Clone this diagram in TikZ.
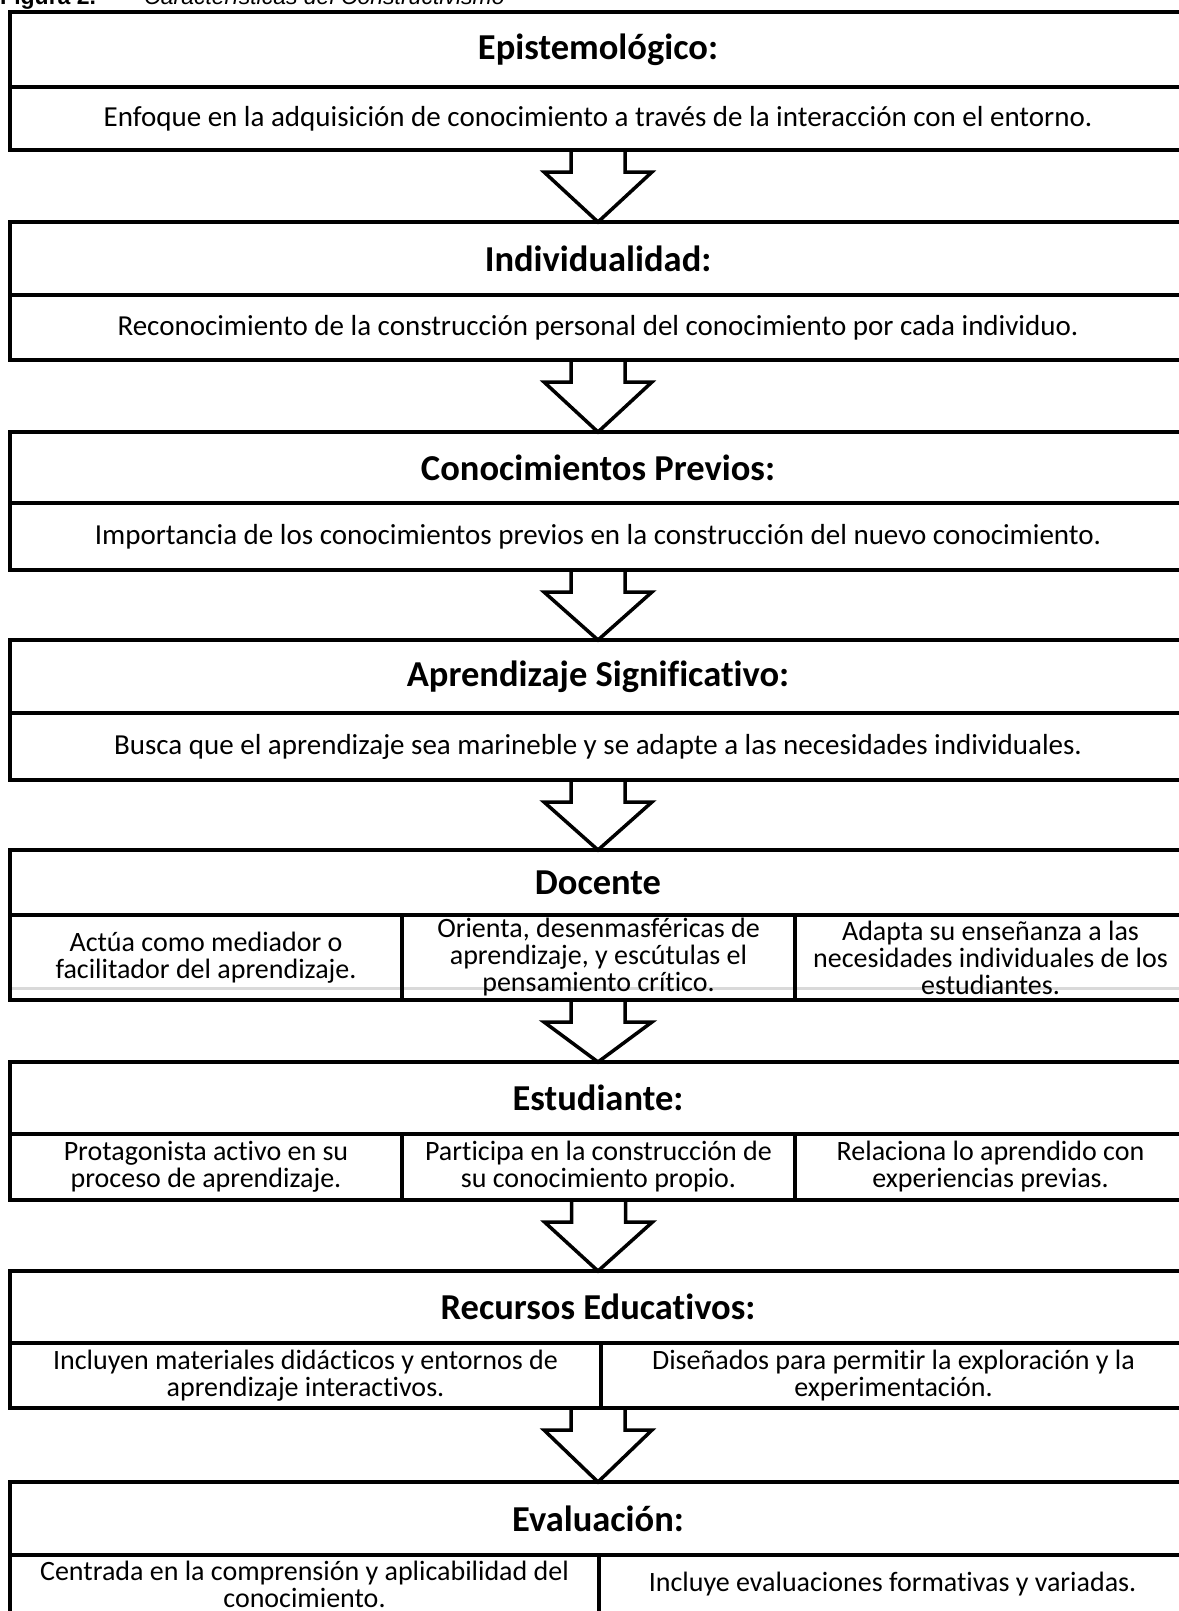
\documentclass[tikz,border=0pt]{standalone}
\usepackage{fontspec}
\setmainfont{Carlito}[Ligatures=NoCommon]
\newfontfamily\capfont{Liberation Sans}
\usetikzlibrary{calc}
\newcommand\flowarrow[2]{%
  \draw[arrowline] ($(#1)+(-27,0)$) -- ++(0,22) -- ++(-27,0) -- (#2) -- ($(#1)+(54,22)$) -- ++(-27,0) -- ++(0,-22);}
\begin{document}
\begin{tikzpicture}[x=1pt,y=-1pt,
  frame/.style={draw=black, line width=4pt, inner sep=0pt, outer sep=0pt, anchor=north west},
  hdr/.style={frame, minimum width=1176, font=\fontsize{36.5}{40}\selectfont\bfseries},
  cell/.style={frame, line width=3.5pt, font=\fontsize{28}{27}\selectfont, align=center},
  wide/.style={cell, minimum width=1176, font=\fontsize{29}{30}\selectfont},
  arrowline/.style={draw=black, line width=3.5pt, line join=miter},
  capt/.style={anchor=base west, inner sep=0pt}]
\useasboundingbox (0,0) rectangle (1178,1611);

% caption (mostly cut off at the top)
\node[capt, font=\capfont\fontsize{23}{23}\selectfont\bfseries] (capA) at (0,5) {Figura 2.};
\node[capt, font=\capfont\fontsize{23}{23}\selectfont\itshape] (capB) at (144,5) {Características del Constructivismo};

% light grey rule
\draw[black!15, line width=3pt] (10,988) -- (1186,988);

% 1
\node[hdr, minimum height=75] (h1) at (10,12) {Epistemológico:};
\node[wide, minimum height=63] (c1) at (h1.south west) {Enfoque en la adquisición de conocimiento a través de la interacción con el entorno.};
% 2
\node[hdr, minimum height=73] (h2) at (10,222) {Individualidad:};
\node[wide, minimum height=65] (c2) at (h2.south west) {Reconocimiento de la construcción personal del conocimiento por cada individuo.};
% 3
\node[hdr, minimum height=71] (h3) at (10,432) {Conocimientos Previos:};
\node[wide, minimum height=67] (c3) at (h3.south west) {Importancia de los conocimientos previos en la construcción del nuevo conocimiento.};
% 4
\node[hdr, minimum height=73] (h4) at (10,640) {Aprendizaje Significativo:};
\node[wide, minimum height=67] (c4) at (h4.south west) {Busca que el aprendizaje sea marineble y se adapte a las necesidades individuales.};
% 5
\node[hdr, minimum height=65] (h5) at (10,850) {Docente};
\node[cell, minimum width=392, minimum height=85] (d1) at (10,915) {Actúa como mediador o\\facilitador del aprendizaje.};
\node[cell, minimum width=393, minimum height=85] (d2) at (d1.north east) {Orienta, desenmasféricas de\\aprendizaje, y escútulas el\\pensamiento crítico.};
\node[cell, minimum width=391, minimum height=85] (d3) at (d2.north east) {Adapta su enseñanza a las\\necesidades individuales de los\\estudiantes.};
\draw[line width=4pt] (d1.north west) -- (d3.north east);
\draw[line width=4pt] (d1.south west) -- (d3.south east);
% 6
\node[hdr, minimum height=72] (h6) at (10,1062) {Estudiante:};
\node[cell, minimum width=392, minimum height=66] (e1) at (h6.south west) {Protagonista activo en su\\proceso de aprendizaje.};
\node[cell, minimum width=393, minimum height=66] (e2) at (e1.north east) {Participa en la construcción de\\su conocimiento propio.};
\node[cell, minimum width=391, minimum height=66] (e3) at (e2.north east) {Relaciona lo aprendido con\\experiencias previas.};
% 7
\node[hdr, minimum height=72] (h7) at (10,1271) {Recursos Educativos:};
\node[cell, minimum width=591, minimum height=65] (r1) at (h7.south west) {Incluyen materiales didácticos y entornos de\\aprendizaje interactivos.};
\node[cell, minimum width=585, minimum height=65] (r2) at (r1.north east) {Diseñados para permitir la exploración y la\\experimentación.};
% 8
\node[hdr, minimum height=73] (h8) at (10,1482) {Evaluación:};
\node[cell, minimum width=589, minimum height=58] (v1) at (h8.south west) {Centrada en la comprensión y aplicabilidad del\\conocimiento.};
\node[cell, minimum width=587, minimum height=58] (v2) at (v1.north east) {Incluye evaluaciones formativas y variadas.};
\draw[line width=3.5pt] (v1.north east) -- (10+589,1640);
\draw[line width=4pt] (10,1555) -- (10,1640);

% arrows
\coordinate (a5) at (h5.south |- d2.south);
\coordinate (a7) at (h7.south |- r1.south);
\flowarrow{c1.south}{h2.north}
\flowarrow{c2.south}{h3.north}
\flowarrow{c3.south}{h4.north}
\flowarrow{c4.south}{h5.north}
\flowarrow{a5}{h6.north}
\flowarrow{e2.south}{h7.north}
\flowarrow{a7}{h8.north}
\end{tikzpicture}
\end{document}
